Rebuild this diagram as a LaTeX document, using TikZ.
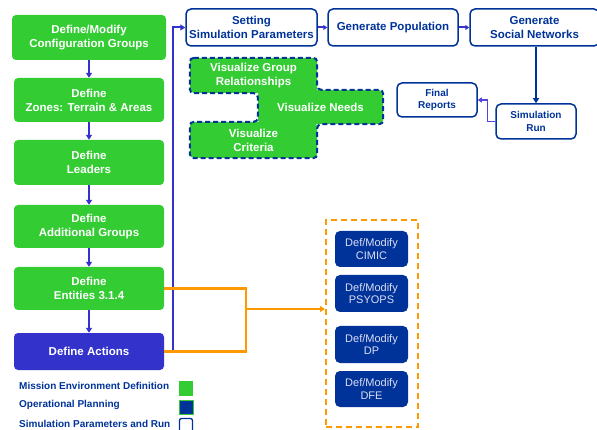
\documentclass[tikz,border=0pt]{standalone}
\usepackage{fontspec}
\setmainfont{Liberation Sans}
\usetikzlibrary{arrows.meta}
\definecolor{mgreen}{HTML}{33CC33}
\definecolor{dblue}{HTML}{003399}
\definecolor{pblue}{HTML}{3333CC}
\definecolor{lblue}{HTML}{5544DD}
\definecolor{morange}{HTML}{FF9900}
\definecolor{lav}{HTML}{DDDDF4}
\tikzset{
  gbox/.style={fill=mgreen, text=white, font=\bfseries\fontsize{11.5}{14}\selectfont, align=center, rounded corners=4pt, inner sep=0pt},
  abox/.style={fill=pblue, text=white, font=\bfseries\fontsize{11.5}{14}\selectfont, align=center, rounded corners=4pt, inner sep=0pt},
  tbox/.style={draw=dblue, line width=1.5pt, fill=white, text=dblue, font=\bfseries\fontsize{11.5}{14}\selectfont, align=center, rounded corners=5pt, inner sep=0pt},
  sbox/.style={draw=dblue, line width=1.5pt, fill=white, text=dblue, font=\bfseries\fontsize{10}{12.2}\selectfont, align=center, rounded corners=5pt, inner sep=0pt},
  vbox/.style={fill=mgreen, text=white, font=\bfseries\fontsize{11.5}{14}\selectfont, align=center, rounded corners=4pt, inner sep=0pt},
  obox/.style={fill=dblue, text=lav, font=\fontsize{11}{12.7}\selectfont, align=center, rounded corners=5pt, inner sep=0pt, minimum width=73pt},
  vline/.style={draw=pblue, line width=2pt, -{Triangle[length=5pt,width=6pt]}},
  legtext/.style={text=dblue, font=\bfseries\fontsize{10}{11}\selectfont, anchor=west, inner sep=0pt},
}
\begin{document}
\begin{tikzpicture}[x=1pt,y=-1pt]
\useasboundingbox (0,0) rectangle (597,430);
\fill[white] (0,0) rectangle (597,430);

% left column
\node[gbox, minimum width=154pt, minimum height=45pt] (b1) at (89,37.5) {Define/Modify\\Configuration Groups};
\node[gbox, minimum width=150pt, minimum height=44pt] (b2) at (89,100) {Define\\Zones: Terrain \& Areas};
\node[gbox, minimum width=150pt, minimum height=45pt] (b3) at (89,162.5) {Define\\Leaders};
\node[gbox, minimum width=150pt, minimum height=43pt] (b4) at (89,226.5) {Define\\Additional Groups};
\node[gbox, minimum width=150pt, minimum height=43pt] (b5) at (89,288.5) {Define\\Entities 3.1.4};
\node[abox, minimum width=150pt, minimum height=37pt] (b6) at (89,351.5) {Define Actions};

\foreach \a/\b in {b1/b2,b2/b3,b3/b4,b4/b5,b5/b6}
  \draw[vline] (\a.south) -- (\b.north);

% top row
\node[tbox, minimum width=131pt, minimum height=37pt] (s1) at (251.5,27.5) {Setting\\Simulation Parameters};
\node[tbox, minimum width=130pt, minimum height=37pt] (s2) at (393,27.5) {Generate Population};
\node[tbox, minimum width=129pt, minimum height=37pt] (s3) at (534.5,27.5) {Generate\\Social Networks};
\node[sbox, minimum width=80pt, minimum height=34pt] (fr) at (437,100) {Final\\Reports};
\node[sbox, minimum width=80pt, minimum height=35pt] (sr) at (536,121.5) {Simulation\\Run};

\draw[draw=pblue, line width=2pt, -{Triangle[length=4pt,width=5pt]}] (s1.east) -- (s2.west);
\draw[draw=pblue, line width=2pt, -{Triangle[length=4pt,width=5pt]}] (s2.east) -- (s3.west);
\draw[draw=dblue, line width=1.8pt, -{Triangle[length=5pt,width=6pt]}] (sr.north |- s3.south) -- (sr.north);
\draw[draw=lblue, line width=1.5pt, -{Triangle[length=4pt,width=5pt]}] (sr.west) -- ++(-8,0) |- (fr.east);

% visualize group
\node[vbox, minimum width=127pt, minimum height=35pt] (vg) at (253.5,75.5) {Visualize Group\\Relationships};
\node[vbox, minimum width=125pt, minimum height=34pt] (vn) at (320.5,107) {Visualize Needs};
\node[vbox, minimum width=127pt, minimum height=36pt] (vc) at (253.5,140) {Visualize\\Criteria};
\draw[dblue, line width=2pt, dash pattern=on 5pt off 3pt, rounded corners=4pt]
  (vg.north west) -- (vg.north east) -- (vg.east |- vn.north) -- (vn.north east)
  -- (vn.south east) -- (vc.east |- vn.south) -- (vc.south east) -- (vc.south west)
  -- (vc.north west) -- (vn.west |- vc.north) -- (vn.west |- vg.south) -- (vg.south west) -- cycle;

% operational group
\node[draw=morange, line width=2pt, dash pattern=on 6pt off 4pt, minimum width=92pt, minimum height=207pt, inner sep=0pt] (ob) at (372,323.5) {};
\node[obox, minimum height=36pt] (o1) at (371.5,249) {Def/Modify\\CIMIC};
\node[obox, minimum height=37pt] (o2) at (371.5,293.5) {Def/Modify\\PSYOPS};
\node[obox, minimum height=37pt] (o3) at (371.5,344.5) {Def/Modify\\DP};
\node[obox, minimum height=36pt] (o4) at (371.5,389) {Def/Modify\\DFE};

% connectors from left column
\draw[draw=pblue, line width=2pt, -{Triangle[length=5pt,width=6pt]}] (b6.east) -- ++(9,0) |- (s1.west);
\coordinate (oj) at (246,309);
\draw[draw=morange, line width=2.5pt] (b5.east) -| (oj) |- (b6.east);
\draw[draw=morange, line width=2pt, -{Triangle[length=5pt,width=6pt]}] (oj) -- (oj -| ob.west);

% legend
\node[legtext] (l1) at (19,386) {Mission Environment Definition};
\node[legtext] (l2) at (19,404.5) {Operational Planning};
\node[legtext] (l3) at (19,424) {Simulation Parameters and Run};
\node[fill=mgreen, minimum width=14pt, minimum height=15pt, inner sep=0pt] (k1) at (186,388.5) {};
\node[fill=dblue, draw=mgreen, line width=0.6pt, minimum width=14pt, minimum height=14pt, inner sep=0pt] (k2) at (186,407) {};
\node[fill=white, draw=dblue, line width=1.3pt, rounded corners=2pt, minimum width=13pt, minimum height=15pt, inner sep=0pt] (k3) at (186,426) {};
\end{tikzpicture}
\end{document}
